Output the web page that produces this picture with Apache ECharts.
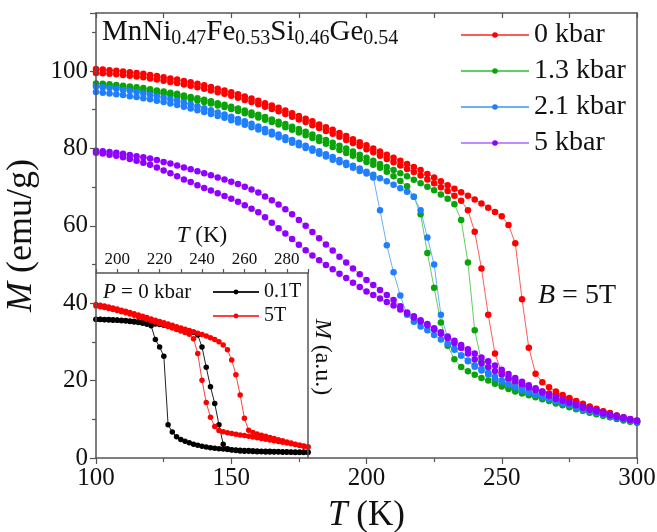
<!DOCTYPE html>
<html>
<head>
<meta charset="utf-8">
<script src="https://cdn.jsdelivr.net/npm/echarts@6/dist/echarts.min.js"></script>
<style>
  html, body { margin: 0; padding: 0; background: #fff; }
  #chart { width: 657px; height: 532px; }
</style>
</head>
<body>
<div id="chart"></div>
<script>
// main panel: temperature grid (K) and magnetisation (emu/g), two branches per pressure
const temps = [100, 102.5, 105, 107.5, 110, 112.5, 115, 117.5, 120, 122.5, 125, 127.5, 130, 132.5, 135, 137.5,
	140, 142.5, 145, 147.5, 150, 152.5, 155, 157.5, 160, 162.5, 165, 167.5, 170, 172.5, 175, 177.5,
	180, 182.5, 185, 187.5, 190, 192.5, 195, 197.5, 200, 202.5, 205, 207.5, 210, 212.5, 215, 217.5,
	220, 222.5, 225, 227.5, 230, 232.5, 235, 237.5, 240, 242.5, 245, 247.5, 250, 252.5, 255, 257.5,
	260, 262.5, 265, 267.5, 270, 272.5, 275, 277.5, 280, 282.5, 285, 287.5, 290, 292.5, 295, 297.5, 300];

const redHeat = [100.5, 100.4, 100.2, 100.1, 99.9, 99.7, 99.5, 99.3, 99.0, 98.7, 98.4, 98.1, 97.8, 97.4, 97.1, 96.7,
	96.3, 95.9, 95.4, 95.0, 94.5, 94.0, 93.4, 92.9, 92.3, 91.7, 91.1, 90.5, 89.8, 89.1, 88.4, 87.7,
	87.0, 86.2, 85.5, 84.8, 84.0, 83.2, 82.4, 81.6, 80.8, 80.0, 79.2, 78.4, 77.6, 76.8, 76.0, 75.2,
	74.4, 73.4, 72.5, 71.5, 70.5, 69.6, 68.7, 67.8, 66.8, 65.8, 64.7, 63.6, 62.5, 60.2, 55.5, 41.0,
	28.5, 21.8, 19.6, 18.3, 17.2, 16.3, 15.5, 14.7, 14.0, 13.3, 12.7, 12.1, 11.6, 11.0, 10.5, 10.0, 9.6];
const redCool = [99.5, 99.4, 99.3, 99.2, 99.0, 98.8, 98.6, 98.4, 98.1, 97.8, 97.5, 97.2, 96.9, 96.5, 96.2, 95.8,
	95.4, 95.0, 94.5, 94.1, 93.6, 93.1, 92.5, 92.0, 91.4, 90.8, 90.2, 89.6, 88.9, 88.2, 87.5, 86.8,
	86.0, 85.3, 84.5, 83.8, 83.0, 82.2, 81.4, 80.6, 79.8, 79.0, 78.1, 77.3, 76.4, 75.6, 74.7, 73.9,
	73.0, 72.0, 71.0, 70.0, 69.0, 67.8, 66.5, 64.0, 58.5, 49.0, 37.0, 27.0, 22.0, 20.3, 19.4, 18.8,
	18.2, 17.7, 17.2, 16.7, 16.4, 15.9, 15.3, 14.6, 13.8, 13.2, 12.6, 12.0, 11.5, 10.9, 10.4, 9.9, 9.5];
const greenHeat = [96.8, 96.7, 96.6, 96.4, 96.2, 96.0, 95.8, 95.6, 95.3, 95.0, 94.7, 94.4, 94.1, 93.7, 93.3, 93.0,
	92.6, 92.2, 91.7, 91.3, 90.8, 90.3, 89.8, 89.3, 88.7, 88.1, 87.5, 86.9, 86.3, 85.6, 85.0, 84.3,
	83.6, 82.9, 82.2, 81.5, 80.7, 80.0, 79.2, 78.4, 77.6, 76.8, 76.0, 75.2, 74.4, 73.6, 72.8, 71.9,
	71.0, 70.1, 69.2, 68.1, 67.0, 65.6, 61.5, 50.5, 33.0, 25.0, 21.8, 20.3, 19.0, 18.2, 17.6, 17.0,
	16.5, 16.0, 15.5, 15.0, 14.3, 13.8, 13.3, 12.8, 12.3, 11.8, 11.4, 11.0, 10.6, 10.2, 9.8, 9.5, 9.2];
const greenCool = [96.2, 96.1, 96.0, 95.8, 95.6, 95.4, 95.2, 94.9, 94.7, 94.4, 94.1, 93.8, 93.5, 93.1, 92.8, 92.4,
	92.0, 91.6, 91.1, 90.7, 90.2, 89.7, 89.1, 88.6, 88.0, 87.4, 86.8, 86.2, 85.5, 84.8, 84.1, 83.4,
	82.7, 81.9, 81.2, 80.4, 79.6, 78.8, 78.1, 77.3, 76.5, 75.8, 75.0, 74.0, 72.8, 71.6, 70.2, 67.5,
	63.0, 53.0, 44.0, 35.0, 29.0, 25.5, 23.5, 22.4, 21.5, 20.7, 20.0, 19.2, 18.5, 17.8, 17.2, 16.7,
	16.2, 15.7, 15.2, 14.7, 14.1, 13.6, 13.1, 12.6, 12.2, 11.7, 11.3, 10.9, 10.5, 10.1, 9.7, 9.4, 9.1];
const blueHeat = [96.0, 95.8, 95.6, 95.4, 95.1, 94.9, 94.6, 94.2, 93.9, 93.5, 93.1, 92.7, 92.3, 91.9, 91.4, 90.9,
	90.4, 89.9, 89.3, 88.8, 88.2, 87.6, 87.0, 86.4, 85.7, 85.0, 84.3, 83.6, 82.9, 82.2, 81.5, 80.7,
	80.0, 79.3, 78.5, 77.8, 77.0, 76.3, 75.5, 74.8, 74.0, 73.2, 72.3, 71.5, 70.6, 69.7, 68.8, 67.5,
	64.0, 57.0, 50.0, 37.0, 31.0, 28.3, 26.5, 25.2, 24.0, 23.0, 22.0, 21.0, 20.0, 19.2, 18.5, 17.8,
	17.2, 16.6, 16.0, 15.4, 14.8, 14.2, 13.7, 13.2, 12.7, 12.2, 11.7, 11.3, 10.9, 10.5, 10.1, 9.7, 9.4];
const blueCool = [94.6, 94.4, 94.2, 94.0, 93.8, 93.5, 93.3, 93.0, 92.7, 92.3, 92.0, 91.6, 91.2, 90.8, 90.3, 89.9,
	89.4, 88.9, 88.4, 87.9, 87.3, 86.7, 86.1, 85.5, 84.9, 84.2, 83.6, 82.9, 82.2, 81.5, 80.8, 80.1,
	79.4, 78.6, 77.9, 77.1, 76.4, 75.7, 75.0, 74.2, 73.5, 72.5, 64.0, 55.0, 48.0, 42.0, 37.0, 35.2,
	34.0, 33.0, 31.8, 30.6, 29.5, 28.0, 26.5, 25.0, 23.6, 22.6, 21.6, 20.6, 19.7, 18.9, 18.2, 17.5,
	16.9, 16.3, 15.7, 15.2, 14.6, 14.1, 13.6, 13.0, 12.5, 12.1, 11.6, 11.2, 10.8, 10.4, 10.0, 9.6, 9.3];
const purpleHeat = [79.4, 79.3, 79.1, 78.9, 78.6, 78.3, 78.0, 77.7, 77.4, 77.0, 76.5, 76.1, 75.6, 75.1, 74.6, 74.1,
	73.6, 73.1, 72.5, 72.0, 71.4, 70.8, 70.1, 69.4, 68.6, 67.6, 66.6, 65.5, 64.3, 63.0, 61.5, 60.0,
	58.4, 56.8, 55.2, 53.6, 52.0, 50.5, 49.0, 47.5, 46.0, 44.7, 43.4, 42.1, 40.8, 39.2, 37.6, 36.6,
	35.6, 34.6, 33.5, 32.5, 31.4, 30.3, 29.2, 28.1, 27.0, 26.0, 25.0, 23.9, 22.8, 21.7, 20.7, 19.7,
	18.8, 18.0, 17.2, 16.4, 15.7, 15.1, 14.5, 13.9, 13.3, 12.8, 12.3, 11.8, 11.3, 10.9, 10.5, 10.1, 9.7];
const purpleCool = [78.9, 78.7, 78.4, 78.1, 77.7, 77.3, 76.8, 76.3, 75.8, 75.1, 74.3, 73.6, 72.8, 72.0, 71.3, 70.5,
	69.8, 69.1, 68.4, 67.7, 67.0, 66.2, 65.3, 64.4, 63.5, 62.2, 60.8, 59.4, 58.0, 56.6, 55.1, 53.7,
	52.3, 51.1, 49.9, 48.8, 47.6, 46.5, 45.3, 44.2, 43.0, 42.1, 41.2, 40.3, 39.4, 38.4, 37.4, 36.3,
	35.3, 34.3, 33.2, 32.1, 31.0, 29.7, 28.4, 27.0, 25.5, 24.5, 23.5, 22.5, 21.6, 20.7, 19.9, 19.1,
	18.3, 17.6, 16.9, 16.1, 15.3, 14.8, 14.2, 13.6, 13.0, 12.5, 12.0, 11.5, 11.0, 10.6, 10.2, 9.8, 9.5];

// inset: P = 0 kbar, arbitrary units
const insetTemps = [190, 192, 194, 196, 198, 200, 202, 204, 206, 208, 210, 212, 214, 216, 218, 220, 222, 224, 226, 228,
	230, 232, 234, 236, 238, 240, 242, 244, 246, 248, 250, 252, 254, 256, 258, 260, 262, 264, 266, 268,
	270, 272, 274, 276, 278, 280, 282, 284, 286, 288, 290];
const lowFieldHeat = [0.750, 0.750, 0.749, 0.748, 0.747, 0.746, 0.745, 0.743, 0.741, 0.739,
	0.737, 0.734, 0.731, 0.728, 0.725, 0.721, 0.717, 0.713, 0.708, 0.703,
	0.697, 0.692, 0.686, 0.678, 0.665, 0.600, 0.490, 0.385, 0.295, 0.180,
	0.075, 0.050, 0.043, 0.040, 0.038, 0.037, 0.036, 0.035, 0.034, 0.034,
	0.033, 0.033, 0.032, 0.032, 0.031, 0.031, 0.031, 0.030, 0.030, 0.030, 0.030];
const lowFieldCool = [0.748, 0.748, 0.747, 0.746, 0.745, 0.744, 0.742, 0.740, 0.738, 0.735,
	0.732, 0.728, 0.723, 0.715, 0.640, 0.600, 0.550, 0.180, 0.140, 0.115,
	0.100, 0.090, 0.082, 0.075, 0.069, 0.064, 0.060, 0.056, 0.053, 0.050,
	0.048, 0.046, 0.044, 0.043, 0.042, 0.041, 0.040, 0.039, 0.038, 0.037,
	0.036, 0.036, 0.035, 0.035, 0.034, 0.034, 0.033, 0.033, 0.033, 0.032, 0.032];
const highFieldHeat = [0.830, 0.826, 0.821, 0.816, 0.811, 0.805, 0.799, 0.793, 0.787, 0.780,
	0.773, 0.766, 0.759, 0.752, 0.745, 0.738, 0.731, 0.724, 0.717, 0.710,
	0.703, 0.696, 0.689, 0.682, 0.675, 0.667, 0.659, 0.650, 0.641, 0.628,
	0.611, 0.585, 0.530, 0.450, 0.340, 0.215, 0.150, 0.138, 0.130, 0.123,
	0.117, 0.111, 0.105, 0.099, 0.093, 0.087, 0.081, 0.075, 0.069, 0.063, 0.058];
const highFieldCool = [0.822, 0.818, 0.813, 0.808, 0.803, 0.797, 0.791, 0.785, 0.778, 0.771,
	0.764, 0.757, 0.750, 0.742, 0.735, 0.727, 0.719, 0.711, 0.703, 0.695,
	0.687, 0.678, 0.669, 0.645, 0.565, 0.420, 0.300, 0.220, 0.170, 0.148,
	0.142, 0.137, 0.133, 0.129, 0.125, 0.121, 0.117, 0.113, 0.109, 0.105,
	0.101, 0.097, 0.093, 0.089, 0.085, 0.081, 0.077, 0.073, 0.069, 0.065, 0.061];

const pressures = ['0 kbar', '1.3 kbar', '2.1 kbar', '5 kbar'];
const fields = ['0.1T', '5T'];

const serif = 'Liberation Serif',
	ink = '#111',
	axisColor = '#555';

const pair = (xs, ys) => xs.map((x, i) => [x, ys[i]]);

const mainSeries = [
	[pressures[0], redHeat, '#ff0000', '#ff5a5a'],
	[pressures[0], redCool, '#ff0000', '#ff5a5a'],
	[pressures[1], greenHeat, '#0aa40a', '#5fcf5f'],
	[pressures[1], greenCool, '#0aa40a', '#5fcf5f'],
	[pressures[2], blueHeat, '#1f7fff', '#6aaeff'],
	[pressures[2], blueCool, '#1f7fff', '#6aaeff'],
	[pressures[3], purpleHeat, '#8f00ff', '#c489ff'],
	[pressures[3], purpleCool, '#8f00ff', '#c489ff']
].map(([name, values, dot, line]) => ({
	name,
	type: 'line',
	xAxisIndex: 0,
	yAxisIndex: 0,
	data: pair(temps, values),
	symbol: 'circle',
	symbolSize: 6.5,
	itemStyle: { color: dot },
	lineStyle: { color: line, width: 1 },
	z: 2
}));

const insetSeries = [
	[fields[0], lowFieldHeat, '#000', '#222'],
	[fields[0], lowFieldCool, '#000', '#222'],
	[fields[1], highFieldHeat, '#ff0000', '#ff4040'],
	[fields[1], highFieldCool, '#ff0000', '#ff4040']
].map(([name, values, dot, line]) => ({
	name,
	type: 'line',
	xAxisIndex: 2,
	yAxisIndex: 2,
	data: pair(insetTemps, values),
	symbol: 'circle',
	symbolSize: 5.5,
	itemStyle: { color: dot },
	lineStyle: { color: line, width: 1 },
	z: 10
}));

const lineStyle = { color: axisColor, width: 1.5 },
	axisLine = { show: true, onZero: false, lineStyle },
	tickStyle = { color: axisColor, width: 1.2 },
	italic = size => ({ fontFamily: serif, fontSize: size, fontStyle: 'italic', color: ink });

const chart = echarts.init(document.getElementById('chart'), null, { renderer: 'canvas' });

chart.setOption({
	animation: false,
	backgroundColor: '#fff',
	textStyle: { fontFamily: serif, color: ink },
	grid: [
		{ left: 96, top: 13, right: 20, bottom: 74, outerBoundsMode: 'none', containLabel: false },
		{ left: 96, top: 273, width: 212, height: 185, outerBoundsMode: 'none', containLabel: false }
	],
	xAxis: [
		{
			gridIndex: 0, type: 'value', position: 'bottom',
			min: 100, max: 300, interval: 50, z: 12,
			axisLine, splitLine: { show: false },
			axisTick: { show: true, length: 6, lineStyle: tickStyle },
			minorTick: { show: true, splitNumber: 2, length: 4, lineStyle: tickStyle },
			axisLabel: { fontFamily: serif, fontSize: 25, color: ink, margin: 8 },
			name: '{i|T} (K)', nameLocation: 'middle', nameGap: 40,
			nameTextStyle: { fontFamily: serif, fontSize: 35, color: ink, rich: { i: italic(35) } }
		},
		{
			gridIndex: 0, type: 'value', position: 'top',
			min: 100, max: 300, interval: 50,
			axisLine, splitLine: { show: false },
			axisTick: { show: true, inside: true, length: 5, lineStyle: tickStyle },
			minorTick: { show: true, splitNumber: 2, length: 5, lineStyle: tickStyle },
			axisLabel: { show: false }
		},
		{
			gridIndex: 1, type: 'value', position: 'top',
			min: 190, max: 290, interval: 10, z: 12,
			axisLine, splitLine: { show: false },
			axisTick: { show: true, length: 4, lineStyle: tickStyle },
			axisLabel: {
				fontFamily: serif, fontSize: 17, color: ink, margin: 5,
				formatter: v => (v % 20 === 0 ? String(v) : '')
			},
			name: '{i|T} (K)', nameLocation: 'middle', nameGap: 26,
			nameTextStyle: { fontFamily: serif, fontSize: 23, color: ink, rich: { i: italic(23) } }
		}
	],
	yAxis: [
		{
			gridIndex: 0, type: 'value', position: 'left',
			min: 0, max: 115, interval: 20, z: 12,
			axisLine, splitLine: { show: false },
			axisTick: { show: true, length: 6, lineStyle: tickStyle },
			minorTick: { show: true, splitNumber: 2, length: 4, lineStyle: tickStyle },
			axisLabel: { fontFamily: serif, fontSize: 25, color: ink, margin: 8, showMaxLabel: false },
			name: '{i|M} (emu/g)', nameLocation: 'middle', nameGap: 50,
			nameTextStyle: { fontFamily: serif, fontSize: 36, color: ink, rich: { i: italic(36) } }
		},
		{
			gridIndex: 0, type: 'value', position: 'right',
			min: 0, max: 115,
			axisLine, axisTick: { show: false }, axisLabel: { show: false }, splitLine: { show: false }
		},
		{
			gridIndex: 1, type: 'value', position: 'right',
			min: 0, max: 1, z: 12,
			axisLine, axisTick: { show: false }, axisLabel: { show: false }, splitLine: { show: false }
		}
	],
	legend: [
		{
			data: pressures, orient: 'vertical', left: 455, top: 16,
			itemWidth: 68, itemHeight: 7, itemGap: 8, selectedMode: false,
			textStyle: { fontFamily: serif, fontSize: 28, color: ink }
		},
		{
			data: fields, orient: 'vertical', left: 207, top: 277, z: 20,
			itemWidth: 46, itemHeight: 6, itemGap: 4, selectedMode: false,
			textStyle: { fontFamily: serif, fontSize: 20, color: ink }
		}
	],
	graphic: [
		{
			type: 'rect', silent: true, z: 5,
			shape: { x: 97, y: 274, width: 210, height: 183 },
			style: { fill: '#fff' }
		},
		{
			type: 'text', x: 102, y: 15, z: 20,
			style: {
				text: '{n|MnNi}{s|0.47}{n|Fe}{s|0.53}{n|Si}{s|0.46}{n|Ge}{s|0.54}',
				rich: {
					n: { fontFamily: serif, fontSize: 29, lineHeight: 34, fill: ink },
					s: { fontFamily: serif, fontSize: 20, lineHeight: 14, verticalAlign: 'bottom', fill: ink }
				}
			}
		},
		{
			type: 'text', x: 538, y: 296, z: 20,
			style: {
				text: '{i|B} = 5T', fontFamily: serif, fontSize: 28, fill: ink, verticalAlign: 'middle',
				rich: { i: { fontFamily: serif, fontSize: 28, fontStyle: 'italic', fill: ink } }
			}
		},
		{
			type: 'text', x: 103, y: 292, z: 20,
			style: {
				text: '{i|P} = 0 kbar', fontFamily: serif, fontSize: 21, fill: ink, verticalAlign: 'middle',
				rich: { i: { fontFamily: serif, fontSize: 21, fontStyle: 'italic', fill: ink } }
			}
		},
		{
			type: 'text', x: 322, y: 357, z: 20, rotation: -Math.PI / 2,
			style: {
				text: '{i|M} (a.u.)', fontFamily: serif, fontSize: 24, fill: ink,
				align: 'center', verticalAlign: 'middle',
				rich: { i: { fontFamily: serif, fontSize: 24, fontStyle: 'italic', fill: ink } }
			}
		}
	],
	series: [...mainSeries, ...insetSeries]
});
</script>
</body>
</html>
